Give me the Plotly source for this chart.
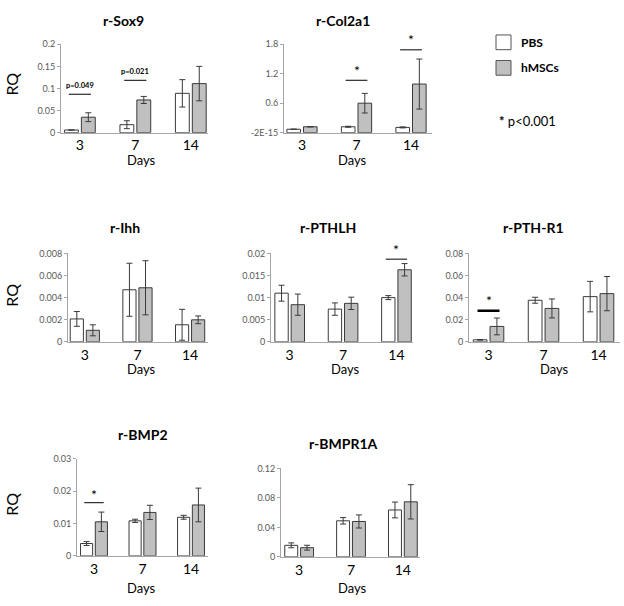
import plotly.graph_objects as go

W, H = 624, 606
days = ["3", "7", "14"]

# ---- data (RQ values) ----
sox9_pbs = [0.006, 0.018, 0.089]
sox9_pbs_err = [0.0, 0.009, 0.031]
sox9_hmsc = [0.035, 0.074, 0.111]
sox9_hmsc_err = [0.010, 0.008, 0.039]

col2a1_pbs = [0.07, 0.12, 0.107]
col2a1_pbs_err = [0.0, 0.01, 0.01]
col2a1_hmsc = [0.12, 0.60, 0.99]
col2a1_hmsc_err = [0.0, 0.20, 0.51]

ihh_pbs = [0.00207, 0.00471, 0.00154]
ihh_pbs_err = [0.00067, 0.0024, 0.0014]
ihh_hmsc = [0.00104, 0.00489, 0.00199]
ihh_hmsc_err = [0.0005, 0.00245, 0.00035]

pthlh_pbs = [0.0110, 0.0074, 0.0100]
pthlh_pbs_err = [0.0018, 0.0014, 0.00045]
pthlh_hmsc = [0.0084, 0.0087, 0.0163]
pthlh_hmsc_err = [0.0024, 0.0014, 0.0014]

pthr1_pbs = [0.0018, 0.0376, 0.0409]
pthr1_pbs_err = [0.0003, 0.0027, 0.0138]
pthr1_hmsc = [0.0139, 0.0302, 0.0436]
pthr1_hmsc_err = [0.0076, 0.0086, 0.0155]

bmp2_pbs = [0.0038, 0.0108, 0.0119]
bmp2_pbs_err = [0.0006, 0.0005, 0.0006]
bmp2_hmsc = [0.0105, 0.0134, 0.0157]
bmp2_hmsc_err = [0.0030, 0.0022, 0.0052]

bmpr1a_pbs = [0.0156, 0.0489, 0.0636]
bmpr1a_pbs_err = [0.0033, 0.0044, 0.0107]
bmpr1a_hmsc = [0.0124, 0.0480, 0.0747]
bmpr1a_hmsc_err = [0.0033, 0.0089, 0.0233]

# y-axis ticks
sox9_ticks = [0, 0.05, 0.1, 0.15, 0.2]
sox9_ticktext = ["0", "0.05", "0.1", "0.15", "0.2"]
col2a1_ticks = [0, 0.6, 1.2, 1.8]
col2a1_ticktext = ["-2E-15", "0.6", "1.2", "1.8"]
ihh_ticks = [0, 0.002, 0.004, 0.006, 0.008]
ihh_ticktext = ["0", "0.002", "0.004", "0.006", "0.008"]
pthlh_ticks = [0, 0.005, 0.01, 0.015, 0.02]
pthlh_ticktext = ["0", "0.005", "0.01", "0.015", "0.02"]
pthr1_ticks = [0, 0.02, 0.04, 0.06, 0.08]
pthr1_ticktext = ["0", "0.02", "0.04", "0.06", "0.08"]
bmp2_ticks = [0, 0.01, 0.02, 0.03]
bmp2_ticktext = ["0", "0.01", "0.02", "0.03"]
bmpr1a_ticks = [0, 0.04, 0.08, 0.12]
bmpr1a_ticktext = ["0", "0.04", "0.08", "0.12"]

# significance marks: (day index, line level, label, label level)
sox9_sig = [(0, 0.087, "p=0.049", 0.106), (1, 0.1185, "p=0.021", 0.138)]
col2a1_sig = [(1, 1.067, "*", 1.27), (2, 1.687, "*", 1.90)]
pthlh_sig = [(2, 0.0187, "*", 0.0208)]
pthr1_sig = [(0, 0.0281, "*", 0.0372)]
bmp2_sig = [(0, 0.0164, "*", 0.0188)]

# ---- layout of panels (pixel boxes) ----
panels = [
    dict(title="r-Sox9", pbs=sox9_pbs, pe=sox9_pbs_err, hm=sox9_hmsc, he=sox9_hmsc_err,
         tv=sox9_ticks, tt=sox9_ticktext, sig=sox9_sig, box=(61, 208, 39, 129),
         xr=[-0.34, 2.31], tx=123, ty=15, dx=141, dy=157, rq=80),
    dict(title="r-Col2a1", pbs=col2a1_pbs, pe=col2a1_pbs_err, hm=col2a1_hmsc, he=col2a1_hmsc_err,
         tv=col2a1_ticks, tt=col2a1_ticktext, sig=col2a1_sig, box=(284, 432, 39, 129),
         xr=[-0.33, 2.385], tx=343, ty=15, dx=352, dy=157, rq=None),
    dict(title="r-Ihh", pbs=ihh_pbs, pe=ihh_pbs_err, hm=ihh_hmsc, he=ihh_hmsc_err,
         tv=ihh_ticks, tt=ihh_ticktext, sig=[], box=(68, 208, 252, 342),
         xr=[-0.32, 2.34], tx=125, ty=226, dx=141, dy=370, rq=295),
    dict(title="r-PTHLH", pbs=pthlh_pbs, pe=pthlh_pbs_err, hm=pthlh_hmsc, he=pthlh_hmsc_err,
         tv=pthlh_ticks, tt=pthlh_ticktext, sig=pthlh_sig, box=(271, 413, 252, 342),
         xr=[-0.35, 2.31], tx=328, ty=226, dx=345, dy=370, rq=None),
    dict(title="r-PTH-R1", pbs=pthr1_pbs, pe=pthr1_pbs_err, hm=pthr1_hmsc, he=pthr1_hmsc_err,
         tv=pthr1_ticks, tt=pthr1_ticktext, sig=pthr1_sig, box=(469, 620, 252, 342),
         xr=[-0.355, 2.39], tx=533, ty=226, dx=554, dy=370, rq=None, thick=True),
    dict(title="r-BMP2", pbs=bmp2_pbs, pe=bmp2_pbs_err, hm=bmp2_hmsc, he=bmp2_hmsc_err,
         tv=bmp2_ticks, tt=bmp2_ticktext, sig=bmp2_sig, box=(77, 208, 461, 560),
         xr=[-0.35, 2.35], tx=143, ty=436, dx=141, dy=593, rq=508),
    dict(title="r-BMPR1A", pbs=bmpr1a_pbs, pe=bmpr1a_pbs_err, hm=bmpr1a_hmsc, he=bmpr1a_hmsc_err,
         tv=bmpr1a_ticks, tt=bmpr1a_ticktext, sig=[], box=(281, 420, 471, 561),
         xr=[-0.35, 2.33], tx=343, ty=446, dx=352, dy=593, rq=None),
]

FONT = "Lato, 'Open Sans', sans-serif"
PBS_FILL = "#ffffff"
HM_FILL = "#c0c0c0"
EDGE = "#3a3a3a"
AXIS = "#a6a6a6"

def px(x):
    return x / W

def py(y):
    return 1 - y / H

fig = go.Figure()
annotations = []
shapes = []
layout_axes = {}

for i, p in enumerate(panels):
    n = "" if i == 0 else str(i + 1)
    xa, ya = "x" + n, "y" + n
    x0, x1, y0, y1 = p["box"]
    for name, vals, errs, fill in (("PBS", p["pbs"], p["pe"], PBS_FILL),
                                   ("hMSCs", p["hm"], p["he"], HM_FILL)):
        fig.add_trace(go.Bar(
            x=days, y=vals, name=name, xaxis=xa, yaxis=ya, showlegend=False,
            marker=dict(color=fill, line=dict(color=EDGE, width=1)),
            error_y=dict(type="data", array=errs, visible=True, color=EDGE,
                         thickness=1, width=3),
            offsetgroup=name,
        ))
    ymax = p["tv"][-1]
    layout_axes["xaxis" + n] = dict(
        domain=[px(x0), px(x1)], anchor=ya, type="category", range=p["xr"],
        showline=True, linecolor=AXIS, linewidth=1, ticks="", showgrid=False,
        zeroline=False, tickfont=dict(size=14, color="#000", family=FONT),
        fixedrange=True,
    )
    layout_axes["yaxis" + n] = dict(
        domain=[py(y1), py(y0)], anchor=xa, range=[0, ymax],
        tickvals=p["tv"], ticktext=p["tt"], showline=True, linecolor=AXIS,
        linewidth=1, ticks="outside", ticklen=3, tickcolor=AXIS, showgrid=False,
        zeroline=False, tickfont=dict(size=9, color="#595959", family=FONT),
        fixedrange=True,
    )
    annotations.append(dict(text="<b>" + p["title"] + "</b>", x=px(p["tx"]),
                            y=py(p["ty"]), xref="paper", yref="paper", showarrow=False,
                            font=dict(size=14, color="#000", family=FONT),
                            xanchor="center", yanchor="middle"))
    annotations.append(dict(text="Days", x=px(p["dx"]), y=py(p["dy"]),
                            xref="paper", yref="paper", showarrow=False,
                            font=dict(size=13, color="#000", family=FONT),
                            xanchor="center", yanchor="middle"))
    if p["rq"] is not None:
        annotations.append(dict(text="RQ", x=px(12), y=py(p["rq"]), xref="paper",
                                yref="paper", showarrow=False, textangle=-90,
                                font=dict(size=16, color="#000", family=FONT),
                                xanchor="center", yanchor="middle"))
    for (gi, ly, lab, ty) in p["sig"]:
        shapes.append(dict(type="line", xref=xa, yref=ya, x0=gi - 0.2, x1=gi + 0.2,
                           y0=ly, y1=ly,
                           line=dict(color="#000", width=2.5 if p.get("thick") else 1)))
        if lab == "*":
            txt, fsz = "*", 14
        else:
            txt, fsz = "<b>" + lab + "</b>", 7.5
        annotations.append(dict(text=txt, x=gi, y=ty / ymax, xref=xa, yref=ya + " domain",
                                showarrow=False, font=dict(size=fsz, color="#000", family=FONT),
                                xanchor="center", yanchor="middle"))

# legend (drawn manually)
legend_items = [("PBS", PBS_FILL, 37), ("hMSCs", HM_FILL, 63)]
for lab, fill, yc in legend_items:
    shapes.append(dict(type="rect", xref="paper", yref="paper",
                       x0=px(496), x1=px(511), y0=py(yc + 7.5), y1=py(yc - 7.5),
                       fillcolor=fill, line=dict(color="#555", width=1)))
    annotations.append(dict(text="<b>" + lab + "</b>", x=px(519), y=py(yc), xref="paper",
                            yref="paper", showarrow=False, xanchor="left", yanchor="middle",
                            font=dict(size=12, color="#000", family=FONT)))
annotations.append(dict(text="<b>*</b> p<0.001", x=px(497), y=py(117), xref="paper",
                        yref="paper", showarrow=False, xanchor="left", yanchor="middle",
                        font=dict(size=13, color="#000", family=FONT)))

fig.update_layout(
    width=W, height=H, margin=dict(l=0, r=0, t=0, b=0),
    paper_bgcolor="#fff", plot_bgcolor="#fff",
    barmode="group", bargap=0.39, bargroupgap=0.18,
    annotations=annotations, shapes=shapes, showlegend=False,
    font=dict(family=FONT),
    **layout_axes,
)

fig.write_html("out.html", config={"displayModeBar": False},
               post_script="document.body.style.margin='0';document.body.style.overflow='hidden';")
